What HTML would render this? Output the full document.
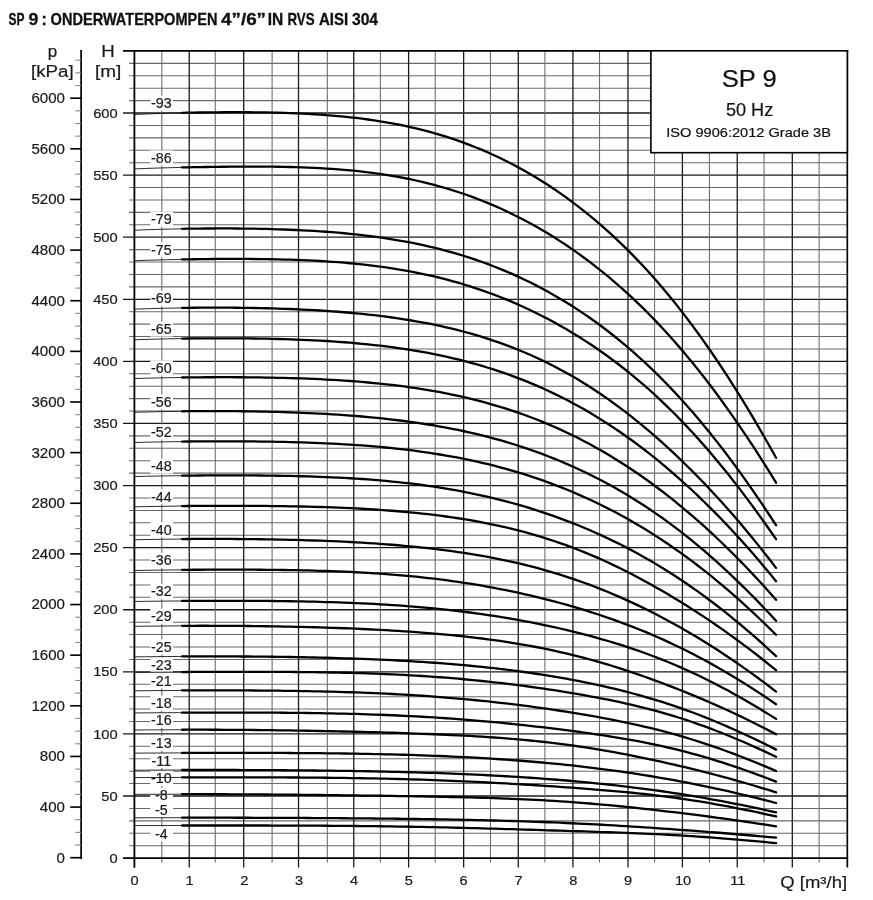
<!DOCTYPE html>
<html><head><meta charset="utf-8"><title>SP 9 pump curves</title>
<style>html,body{margin:0;padding:0;background:#fff;width:873px;height:900px;overflow:hidden} svg{will-change:transform}</style>
</head><body>
<svg width="873" height="900" viewBox="0 0 873 900" style="display:block">
<rect x="0" y="0" width="873" height="900" fill="#fff"/>
<g font-family='"Liberation Sans", sans-serif' font-weight="bold" font-size="15.7" fill="#111" stroke="#111" stroke-width="0.3"><text x="8.54" y="24.9" textLength="15.97" lengthAdjust="spacingAndGlyphs">SP</text><text x="28.58" y="24.9" textLength="9.86" lengthAdjust="spacingAndGlyphs">9</text><text x="50.62" y="24.9" textLength="166.85" lengthAdjust="spacingAndGlyphs">ONDERWATERPOMPEN</text><text x="221.02" y="24.9" textLength="45.0" lengthAdjust="spacingAndGlyphs">4”/6”</text><text x="267.75" y="24.9" textLength="15.49" lengthAdjust="spacingAndGlyphs">IN</text><text x="287.5" y="24.9" textLength="27.14" lengthAdjust="spacingAndGlyphs">RVS</text><text x="318.92" y="24.9" textLength="29.19" lengthAdjust="spacingAndGlyphs">AISI</text><text x="351.95" y="24.9" textLength="26.15" lengthAdjust="spacingAndGlyphs">304</text><text x="44.0" y="24.9" text-anchor="middle">:</text></g>
<line x1="129.2" y1="845.68" x2="847.32" y2="845.68" stroke="#6a6a6a" stroke-width="1.05"/>
<line x1="129.2" y1="833.26" x2="847.32" y2="833.26" stroke="#6a6a6a" stroke-width="1.05"/>
<line x1="129.2" y1="820.85" x2="847.32" y2="820.85" stroke="#6a6a6a" stroke-width="1.05"/>
<line x1="129.2" y1="808.43" x2="847.32" y2="808.43" stroke="#6a6a6a" stroke-width="1.05"/>
<line x1="123.0" y1="796.01" x2="847.32" y2="796.01" stroke="#1a1a1a" stroke-width="1.3"/>
<line x1="129.2" y1="783.59" x2="847.32" y2="783.59" stroke="#6a6a6a" stroke-width="1.05"/>
<line x1="129.2" y1="771.17" x2="847.32" y2="771.17" stroke="#6a6a6a" stroke-width="1.05"/>
<line x1="129.2" y1="758.76" x2="847.32" y2="758.76" stroke="#6a6a6a" stroke-width="1.05"/>
<line x1="129.2" y1="746.34" x2="847.32" y2="746.34" stroke="#6a6a6a" stroke-width="1.05"/>
<line x1="123.0" y1="733.92" x2="847.32" y2="733.92" stroke="#1a1a1a" stroke-width="1.3"/>
<line x1="129.2" y1="721.50" x2="847.32" y2="721.50" stroke="#6a6a6a" stroke-width="1.05"/>
<line x1="129.2" y1="709.08" x2="847.32" y2="709.08" stroke="#6a6a6a" stroke-width="1.05"/>
<line x1="129.2" y1="696.67" x2="847.32" y2="696.67" stroke="#6a6a6a" stroke-width="1.05"/>
<line x1="129.2" y1="684.25" x2="847.32" y2="684.25" stroke="#6a6a6a" stroke-width="1.05"/>
<line x1="123.0" y1="671.83" x2="847.32" y2="671.83" stroke="#1a1a1a" stroke-width="1.3"/>
<line x1="129.2" y1="659.41" x2="847.32" y2="659.41" stroke="#6a6a6a" stroke-width="1.05"/>
<line x1="129.2" y1="646.99" x2="847.32" y2="646.99" stroke="#6a6a6a" stroke-width="1.05"/>
<line x1="129.2" y1="634.58" x2="847.32" y2="634.58" stroke="#6a6a6a" stroke-width="1.05"/>
<line x1="129.2" y1="622.16" x2="847.32" y2="622.16" stroke="#6a6a6a" stroke-width="1.05"/>
<line x1="123.0" y1="609.74" x2="847.32" y2="609.74" stroke="#1a1a1a" stroke-width="1.3"/>
<line x1="129.2" y1="597.32" x2="847.32" y2="597.32" stroke="#6a6a6a" stroke-width="1.05"/>
<line x1="129.2" y1="584.90" x2="847.32" y2="584.90" stroke="#6a6a6a" stroke-width="1.05"/>
<line x1="129.2" y1="572.49" x2="847.32" y2="572.49" stroke="#6a6a6a" stroke-width="1.05"/>
<line x1="129.2" y1="560.07" x2="847.32" y2="560.07" stroke="#6a6a6a" stroke-width="1.05"/>
<line x1="123.0" y1="547.65" x2="847.32" y2="547.65" stroke="#1a1a1a" stroke-width="1.3"/>
<line x1="129.2" y1="535.23" x2="847.32" y2="535.23" stroke="#6a6a6a" stroke-width="1.05"/>
<line x1="129.2" y1="522.81" x2="847.32" y2="522.81" stroke="#6a6a6a" stroke-width="1.05"/>
<line x1="129.2" y1="510.40" x2="847.32" y2="510.40" stroke="#6a6a6a" stroke-width="1.05"/>
<line x1="129.2" y1="497.98" x2="847.32" y2="497.98" stroke="#6a6a6a" stroke-width="1.05"/>
<line x1="123.0" y1="485.56" x2="847.32" y2="485.56" stroke="#1a1a1a" stroke-width="1.3"/>
<line x1="129.2" y1="473.14" x2="847.32" y2="473.14" stroke="#6a6a6a" stroke-width="1.05"/>
<line x1="129.2" y1="460.72" x2="847.32" y2="460.72" stroke="#6a6a6a" stroke-width="1.05"/>
<line x1="129.2" y1="448.31" x2="847.32" y2="448.31" stroke="#6a6a6a" stroke-width="1.05"/>
<line x1="129.2" y1="435.89" x2="847.32" y2="435.89" stroke="#6a6a6a" stroke-width="1.05"/>
<line x1="123.0" y1="423.47" x2="847.32" y2="423.47" stroke="#1a1a1a" stroke-width="1.3"/>
<line x1="129.2" y1="411.05" x2="847.32" y2="411.05" stroke="#6a6a6a" stroke-width="1.05"/>
<line x1="129.2" y1="398.63" x2="847.32" y2="398.63" stroke="#6a6a6a" stroke-width="1.05"/>
<line x1="129.2" y1="386.22" x2="847.32" y2="386.22" stroke="#6a6a6a" stroke-width="1.05"/>
<line x1="129.2" y1="373.80" x2="847.32" y2="373.80" stroke="#6a6a6a" stroke-width="1.05"/>
<line x1="123.0" y1="361.38" x2="847.32" y2="361.38" stroke="#1a1a1a" stroke-width="1.3"/>
<line x1="129.2" y1="348.96" x2="847.32" y2="348.96" stroke="#6a6a6a" stroke-width="1.05"/>
<line x1="129.2" y1="336.54" x2="847.32" y2="336.54" stroke="#6a6a6a" stroke-width="1.05"/>
<line x1="129.2" y1="324.13" x2="847.32" y2="324.13" stroke="#6a6a6a" stroke-width="1.05"/>
<line x1="129.2" y1="311.71" x2="847.32" y2="311.71" stroke="#6a6a6a" stroke-width="1.05"/>
<line x1="123.0" y1="299.29" x2="847.32" y2="299.29" stroke="#1a1a1a" stroke-width="1.3"/>
<line x1="129.2" y1="286.87" x2="847.32" y2="286.87" stroke="#6a6a6a" stroke-width="1.05"/>
<line x1="129.2" y1="274.45" x2="847.32" y2="274.45" stroke="#6a6a6a" stroke-width="1.05"/>
<line x1="129.2" y1="262.04" x2="847.32" y2="262.04" stroke="#6a6a6a" stroke-width="1.05"/>
<line x1="129.2" y1="249.62" x2="847.32" y2="249.62" stroke="#6a6a6a" stroke-width="1.05"/>
<line x1="123.0" y1="237.20" x2="847.32" y2="237.20" stroke="#1a1a1a" stroke-width="1.3"/>
<line x1="129.2" y1="224.78" x2="847.32" y2="224.78" stroke="#6a6a6a" stroke-width="1.05"/>
<line x1="129.2" y1="212.36" x2="847.32" y2="212.36" stroke="#6a6a6a" stroke-width="1.05"/>
<line x1="129.2" y1="199.95" x2="847.32" y2="199.95" stroke="#6a6a6a" stroke-width="1.05"/>
<line x1="129.2" y1="187.53" x2="847.32" y2="187.53" stroke="#6a6a6a" stroke-width="1.05"/>
<line x1="123.0" y1="175.11" x2="847.32" y2="175.11" stroke="#1a1a1a" stroke-width="1.3"/>
<line x1="129.2" y1="162.69" x2="847.32" y2="162.69" stroke="#6a6a6a" stroke-width="1.05"/>
<line x1="129.2" y1="150.27" x2="847.32" y2="150.27" stroke="#6a6a6a" stroke-width="1.05"/>
<line x1="129.2" y1="137.86" x2="847.32" y2="137.86" stroke="#6a6a6a" stroke-width="1.05"/>
<line x1="129.2" y1="125.44" x2="847.32" y2="125.44" stroke="#6a6a6a" stroke-width="1.05"/>
<line x1="123.0" y1="113.02" x2="847.32" y2="113.02" stroke="#1a1a1a" stroke-width="1.3"/>
<line x1="129.2" y1="100.60" x2="847.32" y2="100.60" stroke="#6a6a6a" stroke-width="1.05"/>
<line x1="129.2" y1="88.18" x2="847.32" y2="88.18" stroke="#6a6a6a" stroke-width="1.05"/>
<line x1="129.2" y1="75.77" x2="847.32" y2="75.77" stroke="#6a6a6a" stroke-width="1.05"/>
<line x1="129.2" y1="63.35" x2="847.32" y2="63.35" stroke="#6a6a6a" stroke-width="1.05"/>
<line x1="161.82" y1="50.80" x2="161.82" y2="862.5" stroke="#6a6a6a" stroke-width="1.05"/>
<line x1="189.24" y1="50.80" x2="189.24" y2="867.6" stroke="#1a1a1a" stroke-width="1.3"/>
<line x1="215.26" y1="50.80" x2="215.26" y2="862.5" stroke="#6a6a6a" stroke-width="1.05"/>
<line x1="243.68" y1="50.80" x2="243.68" y2="867.6" stroke="#1a1a1a" stroke-width="1.3"/>
<line x1="272.10" y1="50.80" x2="272.10" y2="862.5" stroke="#6a6a6a" stroke-width="1.05"/>
<line x1="298.52" y1="50.80" x2="298.52" y2="867.6" stroke="#1a1a1a" stroke-width="1.3"/>
<line x1="327.34" y1="50.80" x2="327.34" y2="862.5" stroke="#6a6a6a" stroke-width="1.05"/>
<line x1="353.76" y1="50.80" x2="353.76" y2="867.6" stroke="#1a1a1a" stroke-width="1.3"/>
<line x1="380.38" y1="50.80" x2="380.38" y2="862.5" stroke="#6a6a6a" stroke-width="1.05"/>
<line x1="408.60" y1="50.80" x2="408.60" y2="867.6" stroke="#1a1a1a" stroke-width="1.3"/>
<line x1="435.22" y1="50.80" x2="435.22" y2="862.5" stroke="#6a6a6a" stroke-width="1.05"/>
<line x1="463.64" y1="50.80" x2="463.64" y2="867.6" stroke="#1a1a1a" stroke-width="1.3"/>
<line x1="490.46" y1="50.80" x2="490.46" y2="862.5" stroke="#6a6a6a" stroke-width="1.05"/>
<line x1="518.28" y1="50.80" x2="518.28" y2="867.6" stroke="#1a1a1a" stroke-width="1.3"/>
<line x1="544.90" y1="50.80" x2="544.90" y2="862.5" stroke="#6a6a6a" stroke-width="1.05"/>
<line x1="572.92" y1="50.80" x2="572.92" y2="867.6" stroke="#1a1a1a" stroke-width="1.3"/>
<line x1="599.54" y1="50.80" x2="599.54" y2="862.5" stroke="#6a6a6a" stroke-width="1.05"/>
<line x1="627.96" y1="50.80" x2="627.96" y2="867.6" stroke="#1a1a1a" stroke-width="1.3"/>
<line x1="654.58" y1="50.80" x2="654.58" y2="862.5" stroke="#6a6a6a" stroke-width="1.05"/>
<line x1="682.40" y1="50.80" x2="682.40" y2="867.6" stroke="#1a1a1a" stroke-width="1.3"/>
<line x1="709.42" y1="50.80" x2="709.42" y2="862.5" stroke="#6a6a6a" stroke-width="1.05"/>
<line x1="737.24" y1="50.80" x2="737.24" y2="867.6" stroke="#1a1a1a" stroke-width="1.3"/>
<line x1="764.06" y1="50.80" x2="764.06" y2="862.5" stroke="#6a6a6a" stroke-width="1.05"/>
<line x1="792.30" y1="50.80" x2="792.30" y2="867.6" stroke="#1a1a1a" stroke-width="1.3"/>
<line x1="819.10" y1="50.80" x2="819.10" y2="862.5" stroke="#6a6a6a" stroke-width="1.05"/>
<line x1="123.0" y1="50.80" x2="848.17" y2="50.80" stroke="#000" stroke-width="1.7"/>
<line x1="123.0" y1="858.10" x2="848.12" y2="858.10" stroke="#000" stroke-width="1.6"/>
<line x1="134.40" y1="50.00" x2="134.40" y2="867.8" stroke="#000" stroke-width="1.8"/>
<line x1="847.32" y1="49.95" x2="847.32" y2="867.6" stroke="#000" stroke-width="1.7"/>
<line x1="81.1" y1="50.0" x2="81.1" y2="858.90" stroke="#000" stroke-width="1.7"/>
<line x1="70.2" y1="857.70" x2="81" y2="857.70" stroke="#000" stroke-width="1.6"/>
<line x1="75.3" y1="845.04" x2="81" y2="845.04" stroke="#888" stroke-width="1.1"/>
<line x1="75.3" y1="832.38" x2="81" y2="832.38" stroke="#888" stroke-width="1.1"/>
<line x1="75.3" y1="819.72" x2="81" y2="819.72" stroke="#888" stroke-width="1.1"/>
<line x1="70.2" y1="807.07" x2="81" y2="807.07" stroke="#000" stroke-width="1.6"/>
<line x1="75.3" y1="794.41" x2="81" y2="794.41" stroke="#888" stroke-width="1.1"/>
<line x1="75.3" y1="781.75" x2="81" y2="781.75" stroke="#888" stroke-width="1.1"/>
<line x1="75.3" y1="769.09" x2="81" y2="769.09" stroke="#888" stroke-width="1.1"/>
<line x1="70.2" y1="756.43" x2="81" y2="756.43" stroke="#000" stroke-width="1.6"/>
<line x1="75.3" y1="743.77" x2="81" y2="743.77" stroke="#888" stroke-width="1.1"/>
<line x1="75.3" y1="731.11" x2="81" y2="731.11" stroke="#888" stroke-width="1.1"/>
<line x1="75.3" y1="718.46" x2="81" y2="718.46" stroke="#888" stroke-width="1.1"/>
<line x1="70.2" y1="705.80" x2="81" y2="705.80" stroke="#000" stroke-width="1.6"/>
<line x1="75.3" y1="693.14" x2="81" y2="693.14" stroke="#888" stroke-width="1.1"/>
<line x1="75.3" y1="680.48" x2="81" y2="680.48" stroke="#888" stroke-width="1.1"/>
<line x1="75.3" y1="667.82" x2="81" y2="667.82" stroke="#888" stroke-width="1.1"/>
<line x1="70.2" y1="655.16" x2="81" y2="655.16" stroke="#000" stroke-width="1.6"/>
<line x1="75.3" y1="642.51" x2="81" y2="642.51" stroke="#888" stroke-width="1.1"/>
<line x1="75.3" y1="629.85" x2="81" y2="629.85" stroke="#888" stroke-width="1.1"/>
<line x1="75.3" y1="617.19" x2="81" y2="617.19" stroke="#888" stroke-width="1.1"/>
<line x1="70.2" y1="604.53" x2="81" y2="604.53" stroke="#000" stroke-width="1.6"/>
<line x1="75.3" y1="591.87" x2="81" y2="591.87" stroke="#888" stroke-width="1.1"/>
<line x1="75.3" y1="579.21" x2="81" y2="579.21" stroke="#888" stroke-width="1.1"/>
<line x1="75.3" y1="566.55" x2="81" y2="566.55" stroke="#888" stroke-width="1.1"/>
<line x1="70.2" y1="553.90" x2="81" y2="553.90" stroke="#000" stroke-width="1.6"/>
<line x1="75.3" y1="541.24" x2="81" y2="541.24" stroke="#888" stroke-width="1.1"/>
<line x1="75.3" y1="528.58" x2="81" y2="528.58" stroke="#888" stroke-width="1.1"/>
<line x1="75.3" y1="515.92" x2="81" y2="515.92" stroke="#888" stroke-width="1.1"/>
<line x1="70.2" y1="503.26" x2="81" y2="503.26" stroke="#000" stroke-width="1.6"/>
<line x1="75.3" y1="490.60" x2="81" y2="490.60" stroke="#888" stroke-width="1.1"/>
<line x1="75.3" y1="477.94" x2="81" y2="477.94" stroke="#888" stroke-width="1.1"/>
<line x1="75.3" y1="465.29" x2="81" y2="465.29" stroke="#888" stroke-width="1.1"/>
<line x1="70.2" y1="452.63" x2="81" y2="452.63" stroke="#000" stroke-width="1.6"/>
<line x1="75.3" y1="439.97" x2="81" y2="439.97" stroke="#888" stroke-width="1.1"/>
<line x1="75.3" y1="427.31" x2="81" y2="427.31" stroke="#888" stroke-width="1.1"/>
<line x1="75.3" y1="414.65" x2="81" y2="414.65" stroke="#888" stroke-width="1.1"/>
<line x1="70.2" y1="401.99" x2="81" y2="401.99" stroke="#000" stroke-width="1.6"/>
<line x1="75.3" y1="389.34" x2="81" y2="389.34" stroke="#888" stroke-width="1.1"/>
<line x1="75.3" y1="376.68" x2="81" y2="376.68" stroke="#888" stroke-width="1.1"/>
<line x1="75.3" y1="364.02" x2="81" y2="364.02" stroke="#888" stroke-width="1.1"/>
<line x1="70.2" y1="351.36" x2="81" y2="351.36" stroke="#000" stroke-width="1.6"/>
<line x1="75.3" y1="338.70" x2="81" y2="338.70" stroke="#888" stroke-width="1.1"/>
<line x1="75.3" y1="326.04" x2="81" y2="326.04" stroke="#888" stroke-width="1.1"/>
<line x1="75.3" y1="313.38" x2="81" y2="313.38" stroke="#888" stroke-width="1.1"/>
<line x1="70.2" y1="300.73" x2="81" y2="300.73" stroke="#000" stroke-width="1.6"/>
<line x1="75.3" y1="288.07" x2="81" y2="288.07" stroke="#888" stroke-width="1.1"/>
<line x1="75.3" y1="275.41" x2="81" y2="275.41" stroke="#888" stroke-width="1.1"/>
<line x1="75.3" y1="262.75" x2="81" y2="262.75" stroke="#888" stroke-width="1.1"/>
<line x1="70.2" y1="250.09" x2="81" y2="250.09" stroke="#000" stroke-width="1.6"/>
<line x1="75.3" y1="237.43" x2="81" y2="237.43" stroke="#888" stroke-width="1.1"/>
<line x1="75.3" y1="224.77" x2="81" y2="224.77" stroke="#888" stroke-width="1.1"/>
<line x1="75.3" y1="212.12" x2="81" y2="212.12" stroke="#888" stroke-width="1.1"/>
<line x1="70.2" y1="199.46" x2="81" y2="199.46" stroke="#000" stroke-width="1.6"/>
<line x1="75.3" y1="186.80" x2="81" y2="186.80" stroke="#888" stroke-width="1.1"/>
<line x1="75.3" y1="174.14" x2="81" y2="174.14" stroke="#888" stroke-width="1.1"/>
<line x1="75.3" y1="161.48" x2="81" y2="161.48" stroke="#888" stroke-width="1.1"/>
<line x1="70.2" y1="148.82" x2="81" y2="148.82" stroke="#000" stroke-width="1.6"/>
<line x1="75.3" y1="136.16" x2="81" y2="136.16" stroke="#888" stroke-width="1.1"/>
<line x1="75.3" y1="123.51" x2="81" y2="123.51" stroke="#888" stroke-width="1.1"/>
<line x1="75.3" y1="110.85" x2="81" y2="110.85" stroke="#888" stroke-width="1.1"/>
<line x1="70.2" y1="98.19" x2="81" y2="98.19" stroke="#000" stroke-width="1.6"/>
<line x1="75.3" y1="85.53" x2="81" y2="85.53" stroke="#888" stroke-width="1.1"/>
<line x1="75.3" y1="72.87" x2="81" y2="72.87" stroke="#888" stroke-width="1.1"/>
<line x1="75.3" y1="60.21" x2="81" y2="60.21" stroke="#888" stroke-width="1.1"/>
<g font-family='"Liberation Sans", sans-serif' font-size="14.1" fill="#1a1a1a" stroke="#1a1a1a" stroke-width="0.2"><text transform="translate(65.00,862.65) scale(1.07,1)" text-anchor="end">0</text>
<text transform="translate(65.00,812.02) scale(1.07,1)" text-anchor="end">400</text>
<text transform="translate(65.00,761.38) scale(1.07,1)" text-anchor="end">800</text>
<text transform="translate(65.00,710.75) scale(1.07,1)" text-anchor="end">1200</text>
<text transform="translate(65.00,660.11) scale(1.07,1)" text-anchor="end">1600</text>
<text transform="translate(65.00,609.48) scale(1.07,1)" text-anchor="end">2000</text>
<text transform="translate(65.00,558.85) scale(1.07,1)" text-anchor="end">2400</text>
<text transform="translate(65.00,508.21) scale(1.07,1)" text-anchor="end">2800</text>
<text transform="translate(65.00,457.58) scale(1.07,1)" text-anchor="end">3200</text>
<text transform="translate(65.00,406.94) scale(1.07,1)" text-anchor="end">3600</text>
<text transform="translate(65.00,356.31) scale(1.07,1)" text-anchor="end">4000</text>
<text transform="translate(65.00,305.68) scale(1.07,1)" text-anchor="end">4400</text>
<text transform="translate(65.00,255.04) scale(1.07,1)" text-anchor="end">4800</text>
<text transform="translate(65.00,204.41) scale(1.07,1)" text-anchor="end">5200</text>
<text transform="translate(65.00,153.77) scale(1.07,1)" text-anchor="end">5600</text>
<text transform="translate(65.00,103.14) scale(1.07,1)" text-anchor="end">6000</text></g>
<g font-family='"Liberation Sans", sans-serif' font-size="13.1" fill="#1a1a1a" stroke="#1a1a1a" stroke-width="0.2"><text transform="translate(117.60,862.70) scale(1.12,1)" text-anchor="end">0</text>
<text transform="translate(117.60,800.61) scale(1.12,1)" text-anchor="end">50</text>
<text transform="translate(117.60,738.52) scale(1.12,1)" text-anchor="end">100</text>
<text transform="translate(117.60,676.43) scale(1.12,1)" text-anchor="end">150</text>
<text transform="translate(117.60,614.34) scale(1.12,1)" text-anchor="end">200</text>
<text transform="translate(117.60,552.25) scale(1.12,1)" text-anchor="end">250</text>
<text transform="translate(117.60,490.16) scale(1.12,1)" text-anchor="end">300</text>
<text transform="translate(117.60,428.07) scale(1.12,1)" text-anchor="end">350</text>
<text transform="translate(117.60,365.98) scale(1.12,1)" text-anchor="end">400</text>
<text transform="translate(117.60,303.89) scale(1.12,1)" text-anchor="end">450</text>
<text transform="translate(117.60,241.80) scale(1.12,1)" text-anchor="end">500</text>
<text transform="translate(117.60,179.71) scale(1.12,1)" text-anchor="end">550</text>
<text transform="translate(117.60,117.62) scale(1.12,1)" text-anchor="end">600</text></g>
<g font-family='"Liberation Sans", sans-serif' font-size="13.4" fill="#1a1a1a" stroke="#1a1a1a" stroke-width="0.2"><text transform="translate(134.60,884.70) scale(1.09,1)" text-anchor="middle">0</text>
<text transform="translate(189.44,884.70) scale(1.09,1)" text-anchor="middle">1</text>
<text transform="translate(244.28,884.70) scale(1.09,1)" text-anchor="middle">2</text>
<text transform="translate(299.12,884.70) scale(1.09,1)" text-anchor="middle">3</text>
<text transform="translate(353.96,884.70) scale(1.09,1)" text-anchor="middle">4</text>
<text transform="translate(408.80,884.70) scale(1.09,1)" text-anchor="middle">5</text>
<text transform="translate(463.64,884.70) scale(1.09,1)" text-anchor="middle">6</text>
<text transform="translate(518.48,884.70) scale(1.09,1)" text-anchor="middle">7</text>
<text transform="translate(573.32,884.70) scale(1.09,1)" text-anchor="middle">8</text>
<text transform="translate(628.16,884.70) scale(1.09,1)" text-anchor="middle">9</text>
<text transform="translate(683.00,884.70) scale(1.09,1)" text-anchor="middle">10</text>
<text transform="translate(737.84,884.70) scale(1.09,1)" text-anchor="middle">11</text></g>
<g font-family='"Liberation Sans", sans-serif' fill="#1a1a1a" stroke="#1a1a1a" stroke-width="0.2"><text x="52.6" y="57.3" font-size="17" text-anchor="middle">p</text><text x="31.0" y="76.6" font-size="16.9" textLength="42.6" lengthAdjust="spacingAndGlyphs">[kPa]</text><text x="101.3" y="57.1" font-size="17.4" textLength="13.5" lengthAdjust="spacingAndGlyphs">H</text><text x="94.9" y="76.6" font-size="17" textLength="26.4" lengthAdjust="spacingAndGlyphs">[m]</text><text x="780.3" y="887.8" font-size="16.4" textLength="66.8" lengthAdjust="spacingAndGlyphs">Q [m³/h]</text></g>
<rect x="150.3" y="95.81" width="22.7" height="15" fill="#fff"/>
<rect x="150.3" y="150.40" width="22.7" height="15" fill="#fff"/>
<rect x="150.3" y="211.79" width="22.7" height="15" fill="#fff"/>
<rect x="150.3" y="242.39" width="22.7" height="15" fill="#fff"/>
<rect x="150.3" y="290.88" width="22.7" height="15" fill="#fff"/>
<rect x="150.3" y="321.58" width="22.7" height="15" fill="#fff"/>
<rect x="150.3" y="360.47" width="22.7" height="15" fill="#fff"/>
<rect x="150.3" y="394.27" width="22.7" height="15" fill="#fff"/>
<rect x="150.3" y="424.56" width="22.7" height="15" fill="#fff"/>
<rect x="150.3" y="458.66" width="22.7" height="15" fill="#fff"/>
<rect x="150.3" y="489.05" width="22.7" height="15" fill="#fff"/>
<rect x="150.3" y="522.05" width="22.7" height="15" fill="#fff"/>
<rect x="150.3" y="552.84" width="22.7" height="15" fill="#fff"/>
<rect x="150.3" y="583.94" width="22.7" height="15" fill="#fff"/>
<rect x="150.3" y="608.83" width="22.7" height="15" fill="#fff"/>
<rect x="150.3" y="639.43" width="22.7" height="15" fill="#fff"/>
<rect x="150.3" y="657.53" width="22.7" height="15" fill="#fff"/>
<rect x="150.3" y="673.43" width="22.7" height="15" fill="#fff"/>
<rect x="150.3" y="695.62" width="22.7" height="15" fill="#fff"/>
<rect x="150.3" y="712.72" width="22.7" height="15" fill="#fff"/>
<rect x="150.3" y="735.92" width="22.7" height="15" fill="#fff"/>
<rect x="150.3" y="753.01" width="22.7" height="15" fill="#fff"/>
<rect x="150.3" y="770.91" width="22.7" height="15" fill="#fff"/>
<rect x="150.3" y="787.71" width="22.7" height="15" fill="#fff"/>
<rect x="150.3" y="802.21" width="22.7" height="15" fill="#fff"/>
<rect x="150.3" y="826.51" width="22.7" height="15" fill="#fff"/>
<polyline points="134.40,114.48 139.88,114.23 145.37,113.99 150.85,113.78 156.34,113.58 161.82,113.39 167.30,113.23 172.79,113.07 178.27,112.93 183.76,112.81" fill="none" stroke="#111" stroke-width="0.9"/>
<polyline points="182.11,112.85 188.11,112.72 194.11,112.61 200.11,112.50 206.11,112.42 212.11,112.34 218.11,112.29 224.10,112.24 230.10,112.22 236.10,112.21 242.10,112.22 248.10,112.25 254.10,112.30 260.10,112.37 266.10,112.47 272.10,112.59 278.10,112.73 284.10,112.91 290.10,113.11 296.09,113.35 302.09,113.62 308.09,113.93 314.09,114.27 320.09,114.66 326.09,115.09 332.09,115.56 338.09,116.08 344.09,116.65 350.09,117.28 356.09,117.96 362.09,118.70 368.08,119.50 374.08,120.36 380.08,121.29 386.08,122.28 392.08,123.35 398.08,124.50 404.08,125.72 410.08,127.03 416.08,128.42 422.08,129.89 428.08,131.46 434.08,133.12 440.07,134.87 446.07,136.71 452.07,138.65 458.07,140.70 464.07,142.85 470.07,145.10 476.07,147.46 482.07,149.93 488.07,152.52 494.07,155.22 500.07,158.03 506.07,160.97 512.06,164.03 518.06,167.21 524.06,170.52 530.06,173.95 536.06,177.52 542.06,181.23 548.06,185.06 554.06,189.04 560.06,193.15 566.06,197.41 572.06,201.81 578.06,206.35 584.05,211.04 590.05,215.89 596.05,220.89 602.05,226.05 608.05,231.38 614.05,236.87 620.05,242.54 626.05,248.38 632.05,254.40 638.05,260.60 644.05,266.99 650.05,273.56 656.04,280.32 662.04,287.28 668.04,294.44 674.04,301.80 680.04,309.36 686.04,317.12 692.04,325.09 698.04,333.26 704.04,341.64 710.04,350.23 716.04,359.01 722.04,368.00 728.03,377.20 734.03,386.59 740.03,396.18 746.03,405.97 752.03,415.95 758.03,426.13 764.03,436.49 770.03,447.05 776.03,457.80" fill="none" stroke="#000" stroke-width="2.3" stroke-linejoin="round" stroke-linecap="round"/>
<polyline points="134.40,168.93 139.88,168.70 145.37,168.48 150.85,168.28 156.34,168.10 161.82,167.93 167.30,167.78 172.79,167.64 178.27,167.51 183.76,167.40" fill="none" stroke="#111" stroke-width="0.9"/>
<polyline points="182.11,167.43 188.11,167.32 194.11,167.20 200.11,167.09 206.11,166.98 212.11,166.89 218.11,166.80 224.10,166.73 230.10,166.67 236.10,166.62 242.10,166.59 248.10,166.57 254.10,166.57 260.10,166.59 266.10,166.62 272.10,166.68 278.10,166.77 284.10,166.88 290.10,167.01 296.09,167.18 302.09,167.38 308.09,167.61 314.09,167.88 320.09,168.19 326.09,168.53 332.09,168.93 338.09,169.36 344.09,169.85 350.09,170.39 356.09,170.98 362.09,171.63 368.08,172.33 374.08,173.11 380.08,173.94 386.08,174.85 392.08,175.82 398.08,176.87 404.08,178.00 410.08,179.21 416.08,180.50 422.08,181.87 428.08,183.33 434.08,184.89 440.07,186.53 446.07,188.26 452.07,190.09 458.07,192.01 464.07,194.03 470.07,196.15 476.07,198.38 482.07,200.70 488.07,203.13 494.07,205.67 500.07,208.31 506.07,211.07 512.06,213.94 518.06,216.92 524.06,220.02 530.06,223.24 536.06,226.57 542.06,230.02 548.06,233.60 554.06,237.30 560.06,241.13 566.06,245.08 572.06,249.16 578.06,253.37 584.05,257.72 590.05,262.20 596.05,266.82 602.05,271.58 608.05,276.48 614.05,281.54 620.05,286.75 626.05,292.12 632.05,297.64 638.05,303.33 644.05,309.17 650.05,315.19 656.04,321.38 662.04,327.74 668.04,334.27 674.04,340.98 680.04,347.87 686.04,354.94 692.04,362.20 698.04,369.63 704.04,377.25 710.04,385.05 716.04,393.04 722.04,401.20 728.03,409.55 734.03,418.07 740.03,426.78 746.03,435.66 752.03,444.72 758.03,453.95 764.03,463.36 770.03,472.95 776.03,482.70" fill="none" stroke="#000" stroke-width="2.3" stroke-linejoin="round" stroke-linecap="round"/>
<polyline points="134.40,230.23 139.88,230.01 145.37,229.81 150.85,229.62 156.34,229.45 161.82,229.30 167.30,229.15 172.79,229.02 178.27,228.90 183.76,228.79" fill="none" stroke="#111" stroke-width="0.9"/>
<polyline points="182.11,228.83 188.11,228.72 194.11,228.63 200.11,228.56 206.11,228.51 212.11,228.48 218.11,228.46 224.10,228.46 230.10,228.47 236.10,228.51 242.10,228.56 248.10,228.63 254.10,228.72 260.10,228.83 266.10,228.96 272.10,229.12 278.10,229.30 284.10,229.50 290.10,229.73 296.09,229.99 302.09,230.28 308.09,230.60 314.09,230.95 320.09,231.33 326.09,231.75 332.09,232.21 338.09,232.71 344.09,233.24 350.09,233.83 356.09,234.45 362.09,235.13 368.08,235.85 374.08,236.63 380.08,237.46 386.08,238.34 392.08,239.28 398.08,240.29 404.08,241.35 410.08,242.49 416.08,243.68 422.08,244.95 428.08,246.29 434.08,247.71 440.07,249.20 446.07,250.77 452.07,252.43 458.07,254.16 464.07,255.98 470.07,257.89 476.07,259.89 482.07,261.98 488.07,264.17 494.07,266.46 500.07,268.84 506.07,271.33 512.06,273.92 518.06,276.62 524.06,279.42 530.06,282.34 536.06,285.37 542.06,288.51 548.06,291.77 554.06,295.15 560.06,298.65 566.06,302.27 572.06,306.02 578.06,309.90 584.05,313.90 590.05,318.04 596.05,322.31 602.05,326.73 608.05,331.28 614.05,335.98 620.05,340.83 626.05,345.83 632.05,350.99 638.05,356.30 644.05,361.77 650.05,367.40 656.04,373.19 662.04,379.16 668.04,385.29 674.04,391.59 680.04,398.06 686.04,404.71 692.04,411.54 698.04,418.54 704.04,425.72 710.04,433.07 716.04,440.60 722.04,448.29 728.03,456.17 734.03,464.21 740.03,472.42 746.03,480.80 752.03,489.35 758.03,498.07 764.03,506.95 770.03,515.99 776.03,525.20" fill="none" stroke="#000" stroke-width="2.3" stroke-linejoin="round" stroke-linecap="round"/>
<polyline points="134.40,260.75 139.88,260.54 145.37,260.35 150.85,260.17 156.34,260.01 161.82,259.86 167.30,259.73 172.79,259.60 178.27,259.49 183.76,259.39" fill="none" stroke="#111" stroke-width="0.9"/>
<polyline points="182.11,259.42 188.11,259.32 194.11,259.23 200.11,259.14 206.11,259.07 212.11,259.02 218.11,258.97 224.10,258.94 230.10,258.92 236.10,258.92 242.10,258.93 248.10,258.96 254.10,259.00 260.10,259.07 266.10,259.15 272.10,259.26 278.10,259.38 284.10,259.53 290.10,259.71 296.09,259.91 302.09,260.14 308.09,260.40 314.09,260.69 320.09,261.02 326.09,261.38 332.09,261.78 338.09,262.22 344.09,262.70 350.09,263.23 356.09,263.80 362.09,264.41 368.08,265.08 374.08,265.80 380.08,266.58 386.08,267.41 392.08,268.31 398.08,269.27 404.08,270.29 410.08,271.37 416.08,272.53 422.08,273.76 428.08,275.06 434.08,276.44 440.07,277.89 446.07,279.42 452.07,281.04 458.07,282.73 464.07,284.50 470.07,286.37 476.07,288.31 482.07,290.35 488.07,292.48 494.07,294.69 500.07,297.01 506.07,299.41 512.06,301.92 518.06,304.52 524.06,307.23 530.06,310.03 536.06,312.94 542.06,315.96 548.06,319.08 554.06,322.31 560.06,325.64 566.06,329.09 572.06,332.66 578.06,336.33 584.05,340.13 590.05,344.04 596.05,348.07 602.05,352.24 608.05,356.53 614.05,360.96 620.05,365.52 626.05,370.23 632.05,375.08 638.05,380.07 644.05,385.21 650.05,390.51 656.04,395.95 662.04,401.56 668.04,407.32 674.04,413.25 680.04,419.34 686.04,425.60 692.04,432.03 698.04,438.62 704.04,445.38 710.04,452.31 716.04,459.40 722.04,466.66 728.03,474.08 734.03,481.67 740.03,489.41 746.03,497.32 752.03,505.38 758.03,513.60 764.03,521.98 770.03,530.52 776.03,539.20" fill="none" stroke="#000" stroke-width="2.3" stroke-linejoin="round" stroke-linecap="round"/>
<polyline points="134.40,309.14 139.88,308.95 145.37,308.77 150.85,308.61 156.34,308.46 161.82,308.32 167.30,308.20 172.79,308.08 178.27,307.98 183.76,307.88" fill="none" stroke="#111" stroke-width="0.9"/>
<polyline points="182.11,307.91 188.11,307.82 194.11,307.75 200.11,307.70 206.11,307.66 212.11,307.65 218.11,307.65 224.10,307.66 230.10,307.69 236.10,307.74 242.10,307.81 248.10,307.89 254.10,307.99 260.10,308.11 266.10,308.25 272.10,308.41 278.10,308.59 284.10,308.79 290.10,309.01 296.09,309.26 302.09,309.53 308.09,309.83 314.09,310.15 320.09,310.51 326.09,310.89 332.09,311.31 338.09,311.75 344.09,312.23 350.09,312.75 356.09,313.30 362.09,313.90 368.08,314.53 374.08,315.20 380.08,315.92 386.08,316.69 392.08,317.50 398.08,318.36 404.08,319.28 410.08,320.24 416.08,321.26 422.08,322.34 428.08,323.48 434.08,324.69 440.07,325.96 446.07,327.30 452.07,328.71 458.07,330.19 464.07,331.75 470.07,333.39 476.07,335.11 482.07,336.92 488.07,338.82 494.07,340.80 500.07,342.88 506.07,345.06 512.06,347.33 518.06,349.71 524.06,352.19 530.06,354.78 536.06,357.47 542.06,360.28 548.06,363.20 554.06,366.24 560.06,369.40 566.06,372.68 572.06,376.08 578.06,379.61 584.05,383.27 590.05,387.06 596.05,390.97 602.05,395.01 608.05,399.18 614.05,403.47 620.05,407.90 626.05,412.45 632.05,417.13 638.05,421.94 644.05,426.87 650.05,431.94 656.04,437.12 662.04,442.44 668.04,447.88 674.04,453.45 680.04,459.14 686.04,464.96 692.04,470.90 698.04,476.96 704.04,483.16 710.04,489.48 716.04,495.93 722.04,502.52 728.03,509.24 734.03,516.09 740.03,523.08 746.03,530.20 752.03,537.47 758.03,544.87 764.03,552.41 770.03,560.08 776.03,567.90" fill="none" stroke="#000" stroke-width="2.3" stroke-linejoin="round" stroke-linecap="round"/>
<polyline points="134.40,339.75 139.88,339.57 145.37,339.41 150.85,339.26 156.34,339.12 161.82,338.99 167.30,338.87 172.79,338.76 178.27,338.66 183.76,338.58" fill="none" stroke="#111" stroke-width="0.9"/>
<polyline points="182.11,338.60 188.11,338.52 194.11,338.45 200.11,338.39 206.11,338.35 212.11,338.32 218.11,338.30 224.10,338.30 230.10,338.32 236.10,338.34 242.10,338.39 248.10,338.44 254.10,338.52 260.10,338.61 266.10,338.72 272.10,338.85 278.10,339.00 284.10,339.16 290.10,339.35 296.09,339.57 302.09,339.80 308.09,340.06 314.09,340.35 320.09,340.67 326.09,341.01 332.09,341.39 338.09,341.80 344.09,342.24 350.09,342.72 356.09,343.24 362.09,343.79 368.08,344.38 374.08,345.02 380.08,345.70 386.08,346.43 392.08,347.20 398.08,348.03 404.08,348.90 410.08,349.83 416.08,350.82 422.08,351.86 428.08,352.96 434.08,354.13 440.07,355.36 446.07,356.65 452.07,358.01 458.07,359.44 464.07,360.95 470.07,362.52 476.07,364.18 482.07,365.91 488.07,367.73 494.07,369.62 500.07,371.60 506.07,373.67 512.06,375.83 518.06,378.08 524.06,380.42 530.06,382.85 536.06,385.39 542.06,388.02 548.06,390.75 554.06,393.59 560.06,396.53 566.06,399.57 572.06,402.73 578.06,405.99 584.05,409.37 590.05,412.86 596.05,416.46 602.05,420.18 608.05,424.01 614.05,427.96 620.05,432.02 626.05,436.21 632.05,440.51 638.05,444.94 644.05,449.48 650.05,454.15 656.04,458.94 662.04,463.85 668.04,468.89 674.04,474.05 680.04,479.33 686.04,484.74 692.04,490.27 698.04,495.92 704.04,501.71 710.04,507.62 716.04,513.66 722.04,519.82 728.03,526.12 734.03,532.55 740.03,539.11 746.03,545.79 752.03,552.61 758.03,559.56 764.03,566.65 770.03,573.86 776.03,581.20" fill="none" stroke="#000" stroke-width="2.3" stroke-linejoin="round" stroke-linecap="round"/>
<polyline points="134.40,378.55 139.88,378.38 145.37,378.23 150.85,378.09 156.34,377.97 161.82,377.85 167.30,377.74 172.79,377.64 178.27,377.55 183.76,377.47" fill="none" stroke="#111" stroke-width="0.9"/>
<polyline points="182.11,377.49 188.11,377.41 194.11,377.35 200.11,377.30 206.11,377.25 212.11,377.23 218.11,377.21 224.10,377.20 230.10,377.21 236.10,377.23 242.10,377.26 248.10,377.31 254.10,377.37 260.10,377.45 266.10,377.54 272.10,377.65 278.10,377.78 284.10,377.92 290.10,378.08 296.09,378.27 302.09,378.47 308.09,378.70 314.09,378.95 320.09,379.22 326.09,379.53 332.09,379.85 338.09,380.21 344.09,380.60 350.09,381.02 356.09,381.47 362.09,381.96 368.08,382.48 374.08,383.05 380.08,383.65 386.08,384.29 392.08,384.98 398.08,385.71 404.08,386.48 410.08,387.31 416.08,388.18 422.08,389.11 428.08,390.09 434.08,391.13 440.07,392.22 446.07,393.37 452.07,394.59 458.07,395.87 464.07,397.22 470.07,398.63 476.07,400.12 482.07,401.68 488.07,403.31 494.07,405.02 500.07,406.80 506.07,408.67 512.06,410.62 518.06,412.65 524.06,414.78 530.06,416.98 536.06,419.28 542.06,421.67 548.06,424.16 554.06,426.74 560.06,429.42 566.06,432.20 572.06,435.08 578.06,438.06 584.05,441.15 590.05,444.34 596.05,447.64 602.05,451.05 608.05,454.56 614.05,458.19 620.05,461.92 626.05,465.77 632.05,469.73 638.05,473.80 644.05,477.98 650.05,482.28 656.04,486.70 662.04,491.23 668.04,495.88 674.04,500.64 680.04,505.52 686.04,510.51 692.04,515.63 698.04,520.86 704.04,526.21 710.04,531.68 716.04,537.27 722.04,542.98 728.03,548.81 734.03,554.76 740.03,560.83 746.03,567.02 752.03,573.34 758.03,579.77 764.03,586.33 770.03,593.00 776.03,599.80" fill="none" stroke="#000" stroke-width="2.3" stroke-linejoin="round" stroke-linecap="round"/>
<polyline points="134.40,412.28 139.88,412.13 145.37,411.99 150.85,411.85 156.34,411.73 161.82,411.62 167.30,411.52 172.79,411.43 178.27,411.34 183.76,411.27" fill="none" stroke="#111" stroke-width="0.9"/>
<polyline points="182.11,411.29 188.11,411.21 194.11,411.16 200.11,411.12 206.11,411.10 212.11,411.09 218.11,411.10 224.10,411.12 230.10,411.15 236.10,411.20 242.10,411.26 248.10,411.34 254.10,411.44 260.10,411.54 266.10,411.67 272.10,411.81 278.10,411.97 284.10,412.14 290.10,412.34 296.09,412.55 302.09,412.79 308.09,413.05 314.09,413.33 320.09,413.63 326.09,413.96 332.09,414.31 338.09,414.69 344.09,415.10 350.09,415.54 356.09,416.00 362.09,416.50 368.08,417.03 374.08,417.60 380.08,418.20 386.08,418.84 392.08,419.52 398.08,420.24 404.08,421.00 410.08,421.80 416.08,422.65 422.08,423.54 428.08,424.49 434.08,425.48 440.07,426.52 446.07,427.62 452.07,428.77 458.07,429.98 464.07,431.25 470.07,432.58 476.07,433.97 482.07,435.43 488.07,436.95 494.07,438.55 500.07,440.21 506.07,441.94 512.06,443.75 518.06,445.63 524.06,447.59 530.06,449.62 536.06,451.74 542.06,453.94 548.06,456.22 554.06,458.59 560.06,461.05 566.06,463.59 572.06,466.22 578.06,468.95 584.05,471.77 590.05,474.68 596.05,477.69 602.05,480.80 608.05,484.02 614.05,487.33 620.05,490.75 626.05,494.28 632.05,497.92 638.05,501.67 644.05,505.53 650.05,509.51 656.04,513.60 662.04,517.81 668.04,522.14 674.04,526.59 680.04,531.16 686.04,535.85 692.04,540.67 698.04,545.60 704.04,550.67 710.04,555.85 716.04,561.16 722.04,566.58 728.03,572.13 734.03,577.80 740.03,583.59 746.03,589.50 752.03,595.53 758.03,601.67 764.03,607.93 770.03,614.31 776.03,620.80" fill="none" stroke="#000" stroke-width="2.3" stroke-linejoin="round" stroke-linecap="round"/>
<polyline points="134.40,442.50 139.88,442.36 145.37,442.22 150.85,442.10 156.34,441.99 161.82,441.89 167.30,441.79 172.79,441.71 178.27,441.63 183.76,441.56" fill="none" stroke="#111" stroke-width="0.9"/>
<polyline points="182.11,441.58 188.11,441.51 194.11,441.45 200.11,441.41 206.11,441.37 212.11,441.34 218.11,441.33 224.10,441.32 230.10,441.33 236.10,441.34 242.10,441.37 248.10,441.41 254.10,441.46 260.10,441.53 266.10,441.61 272.10,441.70 278.10,441.81 284.10,441.94 290.10,442.08 296.09,442.24 302.09,442.41 308.09,442.61 314.09,442.83 320.09,443.07 326.09,443.34 332.09,443.62 338.09,443.94 344.09,444.28 350.09,444.65 356.09,445.04 362.09,445.47 368.08,445.93 374.08,446.43 380.08,446.96 386.08,447.52 392.08,448.13 398.08,448.77 404.08,449.46 410.08,450.18 416.08,450.95 422.08,451.77 428.08,452.64 434.08,453.55 440.07,454.51 446.07,455.53 452.07,456.60 458.07,457.72 464.07,458.91 470.07,460.15 476.07,461.45 482.07,462.81 488.07,464.24 494.07,465.73 500.07,467.29 506.07,468.91 512.06,470.61 518.06,472.38 524.06,474.22 530.06,476.13 536.06,478.12 542.06,480.19 548.06,482.34 554.06,484.57 560.06,486.88 566.06,489.27 572.06,491.75 578.06,494.32 584.05,496.97 590.05,499.71 596.05,502.54 602.05,505.46 608.05,508.48 614.05,511.59 620.05,514.80 626.05,518.10 632.05,521.51 638.05,525.01 644.05,528.61 650.05,532.32 656.04,536.13 662.04,540.04 668.04,544.06 674.04,548.19 680.04,552.42 686.04,556.76 692.04,561.20 698.04,565.76 704.04,570.42 710.04,575.19 716.04,580.07 722.04,585.06 728.03,590.16 734.03,595.37 740.03,600.68 746.03,606.10 752.03,611.63 758.03,617.26 764.03,623.00 770.03,628.85 776.03,634.80" fill="none" stroke="#000" stroke-width="2.3" stroke-linejoin="round" stroke-linecap="round"/>
<polyline points="134.40,476.53 139.88,476.40 145.37,476.28 150.85,476.16 156.34,476.06 161.82,475.96 167.30,475.87 172.79,475.79 178.27,475.72 183.76,475.66" fill="none" stroke="#111" stroke-width="0.9"/>
<polyline points="182.11,475.68 188.11,475.61 194.11,475.55 200.11,475.50 206.11,475.46 212.11,475.43 218.11,475.40 224.10,475.39 230.10,475.38 236.10,475.39 242.10,475.40 248.10,475.42 254.10,475.46 260.10,475.51 266.10,475.57 272.10,475.64 278.10,475.73 284.10,475.83 290.10,475.95 296.09,476.09 302.09,476.24 308.09,476.41 314.09,476.61 320.09,476.82 326.09,477.06 332.09,477.32 338.09,477.60 344.09,477.92 350.09,478.25 356.09,478.62 362.09,479.02 368.08,479.45 374.08,479.92 380.08,480.41 386.08,480.95 392.08,481.52 398.08,482.13 404.08,482.78 410.08,483.47 416.08,484.21 422.08,484.99 428.08,485.82 434.08,486.70 440.07,487.62 446.07,488.60 452.07,489.62 458.07,490.70 464.07,491.83 470.07,493.02 476.07,494.27 482.07,495.57 488.07,496.93 494.07,498.35 500.07,499.83 506.07,501.38 512.06,502.99 518.06,504.66 524.06,506.41 530.06,508.22 536.06,510.09 542.06,512.04 548.06,514.06 554.06,516.16 560.06,518.32 566.06,520.56 572.06,522.88 578.06,525.28 584.05,527.75 590.05,530.30 596.05,532.93 602.05,535.65 608.05,538.45 614.05,541.34 620.05,544.32 626.05,547.39 632.05,550.55 638.05,553.80 644.05,557.14 650.05,560.58 656.04,564.12 662.04,567.75 668.04,571.49 674.04,575.32 680.04,579.26 686.04,583.29 692.04,587.43 698.04,591.68 704.04,596.02 710.04,600.47 716.04,605.02 722.04,609.67 728.03,614.43 734.03,619.28 740.03,624.24 746.03,629.30 752.03,634.46 758.03,639.72 764.03,645.08 770.03,650.54 776.03,656.10" fill="none" stroke="#000" stroke-width="2.3" stroke-linejoin="round" stroke-linecap="round"/>
<polyline points="134.40,506.85 139.88,506.73 145.37,506.62 150.85,506.51 156.34,506.42 161.82,506.33 167.30,506.25 172.79,506.18 178.27,506.11 183.76,506.05" fill="none" stroke="#111" stroke-width="0.9"/>
<polyline points="182.11,506.07 188.11,506.01 194.11,505.96 200.11,505.91 206.11,505.88 212.11,505.85 218.11,505.83 224.10,505.82 230.10,505.81 236.10,505.81 242.10,505.83 248.10,505.85 254.10,505.88 260.10,505.92 266.10,505.97 272.10,506.03 278.10,506.10 284.10,506.18 290.10,506.28 296.09,506.39 302.09,506.52 308.09,506.66 314.09,506.82 320.09,506.99 326.09,507.18 332.09,507.39 338.09,507.62 344.09,507.87 350.09,508.15 356.09,508.44 362.09,508.76 368.08,509.11 374.08,509.48 380.08,509.88 386.08,510.31 392.08,510.77 398.08,511.26 404.08,511.78 410.08,512.34 416.08,512.93 422.08,513.56 428.08,514.23 434.08,514.94 440.07,515.70 446.07,516.50 452.07,517.35 458.07,518.24 464.07,519.19 470.07,520.19 476.07,521.25 482.07,522.37 488.07,523.54 494.07,524.78 500.07,526.08 506.07,527.45 512.06,528.89 518.06,530.39 524.06,531.97 530.06,533.62 536.06,535.34 542.06,537.15 548.06,539.03 554.06,541.00 560.06,543.04 566.06,545.18 572.06,547.40 578.06,549.71 584.05,552.10 590.05,554.59 596.05,557.16 602.05,559.81 608.05,562.56 614.05,565.38 620.05,568.29 626.05,571.27 632.05,574.34 638.05,577.49 644.05,580.71 650.05,584.01 656.04,587.38 662.04,590.83 668.04,594.35 674.04,597.94 680.04,601.60 686.04,605.32 692.04,609.11 698.04,612.98 704.04,616.91 710.04,620.91 716.04,624.99 722.04,629.15 728.03,633.38 734.03,637.70 740.03,642.09 746.03,646.56 752.03,651.12 758.03,655.76 764.03,660.49 770.03,665.30 776.03,670.20" fill="none" stroke="#000" stroke-width="2.3" stroke-linejoin="round" stroke-linecap="round"/>
<polyline points="134.40,539.79 139.88,539.68 145.37,539.57 150.85,539.48 156.34,539.39 161.82,539.31 167.30,539.23 172.79,539.16 178.27,539.10 183.76,539.05" fill="none" stroke="#111" stroke-width="0.9"/>
<polyline points="182.11,539.06 188.11,539.01 194.11,538.97 200.11,538.95 206.11,538.93 212.11,538.92 218.11,538.93 224.10,538.94 230.10,538.97 236.10,539.00 242.10,539.04 248.10,539.10 254.10,539.16 260.10,539.24 266.10,539.33 272.10,539.43 278.10,539.54 284.10,539.66 290.10,539.80 296.09,539.95 302.09,540.11 308.09,540.29 314.09,540.49 320.09,540.70 326.09,540.92 332.09,541.17 338.09,541.43 344.09,541.71 350.09,542.02 356.09,542.34 362.09,542.68 368.08,543.05 374.08,543.44 380.08,543.86 386.08,544.30 392.08,544.77 398.08,545.26 404.08,545.79 410.08,546.34 416.08,546.92 422.08,547.54 428.08,548.19 434.08,548.88 440.07,549.60 446.07,550.37 452.07,551.17 458.07,552.02 464.07,552.91 470.07,553.85 476.07,554.84 482.07,555.87 488.07,556.96 494.07,558.10 500.07,559.30 506.07,560.55 512.06,561.86 518.06,563.23 524.06,564.67 530.06,566.16 536.06,567.72 542.06,569.35 548.06,571.05 554.06,572.81 560.06,574.65 566.06,576.56 572.06,578.54 578.06,580.60 584.05,582.74 590.05,584.95 596.05,587.24 602.05,589.60 608.05,592.05 614.05,594.57 620.05,597.16 626.05,599.84 632.05,602.59 638.05,605.41 644.05,608.32 650.05,611.30 656.04,614.35 662.04,617.48 668.04,620.69 674.04,623.97 680.04,627.33 686.04,630.76 692.04,634.27 698.04,637.85 704.04,641.51 710.04,645.25 716.04,649.06 722.04,652.95 728.03,656.92 734.03,660.97 740.03,665.11 746.03,669.32 752.03,673.61 758.03,677.99 764.03,682.44 770.03,686.98 776.03,691.60" fill="none" stroke="#000" stroke-width="2.3" stroke-linejoin="round" stroke-linecap="round"/>
<polyline points="134.40,570.49 139.88,570.40 145.37,570.30 150.85,570.22 156.34,570.14 161.82,570.07 167.30,570.00 172.79,569.95 178.27,569.89 183.76,569.84" fill="none" stroke="#111" stroke-width="0.9"/>
<polyline points="182.11,569.86 188.11,569.81 194.11,569.77 200.11,569.73 206.11,569.70 212.11,569.67 218.11,569.65 224.10,569.64 230.10,569.64 236.10,569.64 242.10,569.65 248.10,569.67 254.10,569.70 260.10,569.74 266.10,569.78 272.10,569.84 278.10,569.91 284.10,570.00 290.10,570.09 296.09,570.20 302.09,570.32 308.09,570.46 314.09,570.62 320.09,570.79 326.09,570.98 332.09,571.19 338.09,571.42 344.09,571.67 350.09,571.95 356.09,572.24 362.09,572.56 368.08,572.91 374.08,573.28 380.08,573.68 386.08,574.11 392.08,574.57 398.08,575.06 404.08,575.58 410.08,576.14 416.08,576.73 422.08,577.36 428.08,578.02 434.08,578.72 440.07,579.46 446.07,580.23 452.07,581.05 458.07,581.90 464.07,582.79 470.07,583.73 476.07,584.70 482.07,585.72 488.07,586.78 494.07,587.88 500.07,589.02 506.07,590.21 512.06,591.45 518.06,592.73 524.06,594.05 530.06,595.43 536.06,596.85 542.06,598.32 548.06,599.83 554.06,601.40 560.06,603.01 566.06,604.68 572.06,606.39 578.06,608.16 584.05,609.97 590.05,611.85 596.05,613.77 602.05,615.76 608.05,617.80 614.05,619.91 620.05,622.08 626.05,624.31 632.05,626.61 638.05,628.98 644.05,631.41 650.05,633.92 656.04,636.49 662.04,639.15 668.04,641.87 674.04,644.67 680.04,647.55 686.04,650.51 692.04,653.54 698.04,656.66 704.04,659.85 710.04,663.12 716.04,666.47 722.04,669.90 728.03,673.41 734.03,676.99 740.03,680.65 746.03,684.39 752.03,688.20 758.03,692.09 764.03,696.05 770.03,700.09 776.03,704.20" fill="none" stroke="#000" stroke-width="2.3" stroke-linejoin="round" stroke-linecap="round"/>
<polyline points="134.40,601.51 139.88,601.42 145.37,601.34 150.85,601.27 156.34,601.20 161.82,601.14 167.30,601.08 172.79,601.03 178.27,600.98 183.76,600.94" fill="none" stroke="#111" stroke-width="0.9"/>
<polyline points="182.11,600.95 188.11,600.91 194.11,600.87 200.11,600.84 206.11,600.82 212.11,600.80 218.11,600.79 224.10,600.79 230.10,600.79 236.10,600.80 242.10,600.82 248.10,600.84 254.10,600.87 260.10,600.91 266.10,600.96 272.10,601.02 278.10,601.08 284.10,601.16 290.10,601.25 296.09,601.35 302.09,601.46 308.09,601.58 314.09,601.71 320.09,601.86 326.09,602.03 332.09,602.21 338.09,602.40 344.09,602.62 350.09,602.85 356.09,603.09 362.09,603.36 368.08,603.65 374.08,603.96 380.08,604.29 386.08,604.65 392.08,605.03 398.08,605.43 404.08,605.86 410.08,606.32 416.08,606.80 422.08,607.31 428.08,607.85 434.08,608.42 440.07,609.03 446.07,609.66 452.07,610.32 458.07,611.02 464.07,611.75 470.07,612.51 476.07,613.31 482.07,614.15 488.07,615.02 494.07,615.92 500.07,616.87 506.07,617.85 512.06,618.87 518.06,619.93 524.06,621.03 530.06,622.17 536.06,623.35 542.06,624.57 548.06,625.84 554.06,627.15 560.06,628.50 566.06,629.90 572.06,631.34 578.06,632.83 584.05,634.36 590.05,635.94 596.05,637.58 602.05,639.27 608.05,641.01 614.05,642.82 620.05,644.68 626.05,646.61 632.05,648.60 638.05,650.66 644.05,652.78 650.05,654.98 656.04,657.25 662.04,659.59 668.04,662.01 674.04,664.51 680.04,667.09 686.04,669.75 692.04,672.49 698.04,675.31 704.04,678.22 710.04,681.20 716.04,684.26 722.04,687.40 728.03,690.61 734.03,693.90 740.03,697.26 746.03,700.70 752.03,704.20 758.03,707.78 764.03,711.42 770.03,715.13 776.03,718.90" fill="none" stroke="#000" stroke-width="2.3" stroke-linejoin="round" stroke-linecap="round"/>
<polyline points="134.40,626.36 139.88,626.28 145.37,626.21 150.85,626.14 156.34,626.08 161.82,626.02 167.30,625.97 172.79,625.92 178.27,625.87 183.76,625.83" fill="none" stroke="#111" stroke-width="0.9"/>
<polyline points="182.11,625.85 188.11,625.81 194.11,625.78 200.11,625.77 206.11,625.77 212.11,625.78 218.11,625.80 224.10,625.82 230.10,625.86 236.10,625.90 242.10,625.95 248.10,626.01 254.10,626.07 260.10,626.15 266.10,626.23 272.10,626.33 278.10,626.43 284.10,626.54 290.10,626.66 296.09,626.79 302.09,626.93 308.09,627.09 314.09,627.25 320.09,627.42 326.09,627.61 332.09,627.80 338.09,628.01 344.09,628.24 350.09,628.47 356.09,628.72 362.09,628.99 368.08,629.27 374.08,629.56 380.08,629.88 386.08,630.21 392.08,630.55 398.08,630.92 404.08,631.30 410.08,631.70 416.08,632.12 422.08,632.57 428.08,633.03 434.08,633.53 440.07,634.04 446.07,634.59 452.07,635.16 458.07,635.76 464.07,636.40 470.07,637.07 476.07,637.77 482.07,638.51 488.07,639.28 494.07,640.10 500.07,640.95 506.07,641.85 512.06,642.79 518.06,643.77 524.06,644.80 530.06,645.87 536.06,647.00 542.06,648.17 548.06,649.40 554.06,650.68 560.06,652.01 566.06,653.39 572.06,654.84 578.06,656.34 584.05,657.90 590.05,659.51 596.05,661.18 602.05,662.91 608.05,664.69 614.05,666.52 620.05,668.41 626.05,670.35 632.05,672.34 638.05,674.38 644.05,676.47 650.05,678.61 656.04,680.80 662.04,683.03 668.04,685.31 674.04,687.63 680.04,690.00 686.04,692.41 692.04,694.86 698.04,697.35 704.04,699.89 710.04,702.48 716.04,705.11 722.04,707.79 728.03,710.52 734.03,713.31 740.03,716.14 746.03,719.03 752.03,721.97 758.03,724.97 764.03,728.02 770.03,731.13 776.03,734.30" fill="none" stroke="#000" stroke-width="2.3" stroke-linejoin="round" stroke-linecap="round"/>
<polyline points="134.40,656.88 139.88,656.81 145.37,656.75 150.85,656.69 156.34,656.64 161.82,656.59 167.30,656.54 172.79,656.50 178.27,656.46 183.76,656.43" fill="none" stroke="#111" stroke-width="0.9"/>
<polyline points="182.11,656.44 188.11,656.41 194.11,656.38 200.11,656.37 206.11,656.37 212.11,656.37 218.11,656.38 224.10,656.39 230.10,656.41 236.10,656.44 242.10,656.48 248.10,656.52 254.10,656.57 260.10,656.63 266.10,656.69 272.10,656.76 278.10,656.84 284.10,656.92 290.10,657.02 296.09,657.12 302.09,657.23 308.09,657.35 314.09,657.48 320.09,657.62 326.09,657.77 332.09,657.93 338.09,658.10 344.09,658.28 350.09,658.48 356.09,658.68 362.09,658.90 368.08,659.13 374.08,659.38 380.08,659.64 386.08,659.92 392.08,660.21 398.08,660.52 404.08,660.84 410.08,661.19 416.08,661.55 422.08,661.92 428.08,662.32 434.08,662.74 440.07,663.18 446.07,663.64 452.07,664.13 458.07,664.64 464.07,665.17 470.07,665.73 476.07,666.31 482.07,666.92 488.07,667.56 494.07,668.22 500.07,668.92 506.07,669.64 512.06,670.40 518.06,671.18 524.06,672.00 530.06,672.85 536.06,673.74 542.06,674.66 548.06,675.61 554.06,676.61 560.06,677.63 566.06,678.70 572.06,679.80 578.06,680.94 584.05,682.12 590.05,683.35 596.05,684.61 602.05,685.93 608.05,687.29 614.05,688.70 620.05,690.16 626.05,691.67 632.05,693.24 638.05,694.86 644.05,696.54 650.05,698.28 656.04,700.08 662.04,701.95 668.04,703.88 674.04,705.87 680.04,707.93 686.04,710.06 692.04,712.26 698.04,714.52 704.04,716.85 710.04,719.25 716.04,721.71 722.04,724.23 728.03,726.82 734.03,729.47 740.03,732.18 746.03,734.94 752.03,737.76 758.03,740.64 764.03,743.58 770.03,746.56 776.03,749.60" fill="none" stroke="#000" stroke-width="2.3" stroke-linejoin="round" stroke-linecap="round"/>
<polyline points="134.40,672.44 139.88,672.38 145.37,672.32 150.85,672.26 156.34,672.22 161.82,672.17 167.30,672.13 172.79,672.09 178.27,672.06 183.76,672.03" fill="none" stroke="#111" stroke-width="0.9"/>
<polyline points="182.11,672.04 188.11,672.01 194.11,671.97 200.11,671.94 206.11,671.92 212.11,671.89 218.11,671.87 224.10,671.85 230.10,671.84 236.10,671.83 242.10,671.82 248.10,671.82 254.10,671.82 260.10,671.82 266.10,671.84 272.10,671.86 278.10,671.88 284.10,671.91 290.10,671.95 296.09,672.00 302.09,672.05 308.09,672.12 314.09,672.19 320.09,672.28 326.09,672.38 332.09,672.48 338.09,672.60 344.09,672.74 350.09,672.89 356.09,673.05 362.09,673.22 368.08,673.42 374.08,673.63 380.08,673.85 386.08,674.10 392.08,674.37 398.08,674.65 404.08,674.96 410.08,675.28 416.08,675.63 422.08,676.00 428.08,676.40 434.08,676.81 440.07,677.25 446.07,677.72 452.07,678.20 458.07,678.71 464.07,679.25 470.07,679.81 476.07,680.39 482.07,680.99 488.07,681.62 494.07,682.28 500.07,682.96 506.07,683.67 512.06,684.40 518.06,685.15 524.06,685.93 530.06,686.74 536.06,687.57 542.06,688.43 548.06,689.32 554.06,690.23 560.06,691.17 566.06,692.13 572.06,693.12 578.06,694.14 584.05,695.19 590.05,696.26 596.05,697.38 602.05,698.53 608.05,699.71 614.05,700.95 620.05,702.22 626.05,703.55 632.05,704.92 638.05,706.35 644.05,707.83 650.05,709.37 656.04,710.97 662.04,712.63 668.04,714.36 674.04,716.15 680.04,718.02 686.04,719.96 692.04,721.97 698.04,724.05 704.04,726.20 710.04,728.42 716.04,730.70 722.04,733.05 728.03,735.46 734.03,737.94 740.03,740.47 746.03,743.06 752.03,745.70 758.03,748.40 764.03,751.15 770.03,753.95 776.03,756.80" fill="none" stroke="#000" stroke-width="2.3" stroke-linejoin="round" stroke-linecap="round"/>
<polyline points="134.40,690.82 139.88,690.76 145.37,690.70 150.85,690.65 156.34,690.60 161.82,690.56 167.30,690.52 172.79,690.49 178.27,690.45 183.76,690.43" fill="none" stroke="#111" stroke-width="0.9"/>
<polyline points="182.11,690.43 188.11,690.41 194.11,690.38 200.11,690.37 206.11,690.36 212.11,690.36 218.11,690.36 224.10,690.36 230.10,690.38 236.10,690.40 242.10,690.42 248.10,690.45 254.10,690.49 260.10,690.53 266.10,690.58 272.10,690.64 278.10,690.71 284.10,690.78 290.10,690.86 296.09,690.95 302.09,691.05 308.09,691.16 314.09,691.28 320.09,691.41 326.09,691.55 332.09,691.70 338.09,691.87 344.09,692.04 350.09,692.24 356.09,692.44 362.09,692.66 368.08,692.89 374.08,693.14 380.08,693.40 386.08,693.68 392.08,693.98 398.08,694.30 404.08,694.63 410.08,694.99 416.08,695.36 422.08,695.76 428.08,696.17 434.08,696.61 440.07,697.06 446.07,697.54 452.07,698.04 458.07,698.55 464.07,699.09 470.07,699.65 476.07,700.24 482.07,700.84 488.07,701.47 494.07,702.12 500.07,702.79 506.07,703.48 512.06,704.19 518.06,704.93 524.06,705.69 530.06,706.48 536.06,707.29 542.06,708.12 548.06,708.97 554.06,709.85 560.06,710.75 566.06,711.68 572.06,712.63 578.06,713.60 584.05,714.60 590.05,715.63 596.05,716.69 602.05,717.78 608.05,718.90 614.05,720.07 620.05,721.27 626.05,722.51 632.05,723.80 638.05,725.13 644.05,726.51 650.05,727.93 656.04,729.42 662.04,730.95 668.04,732.54 674.04,734.19 680.04,735.89 686.04,737.66 692.04,739.49 698.04,741.39 704.04,743.34 710.04,745.35 716.04,747.42 722.04,749.54 728.03,751.72 734.03,753.95 740.03,756.24 746.03,758.58 752.03,760.97 758.03,763.41 764.03,765.89 770.03,768.42 776.03,771.00" fill="none" stroke="#000" stroke-width="2.3" stroke-linejoin="round" stroke-linecap="round"/>
<polyline points="134.40,712.96 139.88,712.91 145.37,712.86 150.85,712.82 156.34,712.78 161.82,712.74 167.30,712.71 172.79,712.67 178.27,712.65 183.76,712.62" fill="none" stroke="#111" stroke-width="0.9"/>
<polyline points="182.11,712.63 188.11,712.60 194.11,712.58 200.11,712.56 206.11,712.55 212.11,712.54 218.11,712.53 224.10,712.53 230.10,712.53 236.10,712.53 242.10,712.54 248.10,712.55 254.10,712.57 260.10,712.59 266.10,712.62 272.10,712.65 278.10,712.69 284.10,712.74 290.10,712.79 296.09,712.86 302.09,712.92 308.09,713.00 314.09,713.09 320.09,713.18 326.09,713.29 332.09,713.40 338.09,713.53 344.09,713.67 350.09,713.81 356.09,713.97 362.09,714.15 368.08,714.34 374.08,714.54 380.08,714.75 386.08,714.98 392.08,715.23 398.08,715.50 404.08,715.78 410.08,716.08 416.08,716.39 422.08,716.73 428.08,717.08 434.08,717.45 440.07,717.84 446.07,718.25 452.07,718.68 458.07,719.12 464.07,719.58 470.07,720.06 476.07,720.56 482.07,721.08 488.07,721.61 494.07,722.16 500.07,722.73 506.07,723.32 512.06,723.93 518.06,724.55 524.06,725.19 530.06,725.85 536.06,726.53 542.06,727.22 548.06,727.94 554.06,728.67 560.06,729.41 566.06,730.18 572.06,730.96 578.06,731.76 584.05,732.58 590.05,733.42 596.05,734.28 602.05,735.17 608.05,736.10 614.05,737.05 620.05,738.04 626.05,739.06 632.05,740.13 638.05,741.24 644.05,742.39 650.05,743.59 656.04,744.85 662.04,746.15 668.04,747.51 674.04,748.92 680.04,750.40 686.04,751.94 692.04,753.54 698.04,755.20 704.04,756.92 710.04,758.70 716.04,760.53 722.04,762.42 728.03,764.36 734.03,766.36 740.03,768.40 746.03,770.49 752.03,772.63 758.03,774.81 764.03,777.03 770.03,779.30 776.03,781.60" fill="none" stroke="#000" stroke-width="2.3" stroke-linejoin="round" stroke-linecap="round"/>
<polyline points="134.40,730.02 139.88,729.98 145.37,729.93 150.85,729.90 156.34,729.86 161.82,729.83 167.30,729.80 172.79,729.77 178.27,729.74 183.76,729.72" fill="none" stroke="#111" stroke-width="0.9"/>
<polyline points="182.11,729.73 188.11,729.70 194.11,729.70 200.11,729.70 206.11,729.71 212.11,729.73 218.11,729.75 224.10,729.78 230.10,729.82 236.10,729.86 242.10,729.91 248.10,729.96 254.10,730.02 260.10,730.08 266.10,730.15 272.10,730.22 278.10,730.30 284.10,730.38 290.10,730.47 296.09,730.57 302.09,730.66 308.09,730.77 314.09,730.87 320.09,730.99 326.09,731.10 332.09,731.23 338.09,731.36 344.09,731.49 350.09,731.63 356.09,731.77 362.09,731.92 368.08,732.08 374.08,732.24 380.08,732.41 386.08,732.59 392.08,732.77 398.08,732.95 404.08,733.15 410.08,733.35 416.08,733.56 422.08,733.78 428.08,734.01 434.08,734.24 440.07,734.49 446.07,734.76 452.07,735.04 458.07,735.33 464.07,735.64 470.07,735.97 476.07,736.32 482.07,736.69 488.07,737.08 494.07,737.49 500.07,737.93 506.07,738.39 512.06,738.88 518.06,739.39 524.06,739.94 530.06,740.51 536.06,741.12 542.06,741.75 548.06,742.42 554.06,743.13 560.06,743.86 566.06,744.64 572.06,745.45 578.06,746.30 584.05,747.19 590.05,748.12 596.05,749.08 602.05,750.08 608.05,751.12 614.05,752.19 620.05,753.29 626.05,754.43 632.05,755.60 638.05,756.80 644.05,758.04 650.05,759.30 656.04,760.59 662.04,761.92 668.04,763.27 674.04,764.64 680.04,766.05 686.04,767.47 692.04,768.93 698.04,770.41 704.04,771.92 710.04,773.45 716.04,775.01 722.04,776.60 728.03,778.22 734.03,779.87 740.03,781.55 746.03,783.26 752.03,785.01 758.03,786.78 764.03,788.59 770.03,790.43 776.03,792.30" fill="none" stroke="#000" stroke-width="2.3" stroke-linejoin="round" stroke-linecap="round"/>
<polyline points="134.40,753.16 139.88,753.12 145.37,753.09 150.85,753.06 156.34,753.03 161.82,753.00 167.30,752.98 172.79,752.95 178.27,752.93 183.76,752.92" fill="none" stroke="#111" stroke-width="0.9"/>
<polyline points="182.11,752.92 188.11,752.90 194.11,752.89 200.11,752.87 206.11,752.86 212.11,752.85 218.11,752.85 224.10,752.84 230.10,752.84 236.10,752.84 242.10,752.85 248.10,752.86 254.10,752.86 260.10,752.88 266.10,752.89 272.10,752.91 278.10,752.94 284.10,752.96 290.10,753.00 296.09,753.03 302.09,753.07 308.09,753.12 314.09,753.17 320.09,753.22 326.09,753.29 332.09,753.35 338.09,753.43 344.09,753.51 350.09,753.60 356.09,753.69 362.09,753.80 368.08,753.91 374.08,754.03 380.08,754.16 386.08,754.29 392.08,754.44 398.08,754.60 404.08,754.77 410.08,754.95 416.08,755.14 422.08,755.34 428.08,755.55 434.08,755.78 440.07,756.02 446.07,756.27 452.07,756.54 458.07,756.82 464.07,757.11 470.07,757.43 476.07,757.75 482.07,758.10 488.07,758.46 494.07,758.83 500.07,759.23 506.07,759.64 512.06,760.07 518.06,760.52 524.06,760.99 530.06,761.48 536.06,761.99 542.06,762.52 548.06,763.07 554.06,763.64 560.06,764.23 566.06,764.85 572.06,765.48 578.06,766.15 584.05,766.83 590.05,767.54 596.05,768.27 602.05,769.03 608.05,769.81 614.05,770.62 620.05,771.45 626.05,772.31 632.05,773.19 638.05,774.11 644.05,775.05 650.05,776.01 656.04,777.01 662.04,778.03 668.04,779.09 674.04,780.17 680.04,781.28 686.04,782.42 692.04,783.59 698.04,784.79 704.04,786.02 710.04,787.27 716.04,788.56 722.04,789.88 728.03,791.22 734.03,792.59 740.03,794.00 746.03,795.43 752.03,796.89 758.03,798.37 764.03,799.89 770.03,801.43 776.03,803.00" fill="none" stroke="#000" stroke-width="2.3" stroke-linejoin="round" stroke-linecap="round"/>
<polyline points="134.40,770.22 139.88,770.19 145.37,770.16 150.85,770.13 156.34,770.11 161.82,770.09 167.30,770.06 172.79,770.05 178.27,770.03 183.76,770.01" fill="none" stroke="#111" stroke-width="0.9"/>
<polyline points="182.11,770.02 188.11,770.00 194.11,769.99 200.11,769.99 206.11,769.98 212.11,769.99 218.11,769.99 224.10,770.00 230.10,770.01 236.10,770.02 242.10,770.04 248.10,770.05 254.10,770.08 260.10,770.10 266.10,770.13 272.10,770.16 278.10,770.20 284.10,770.24 290.10,770.28 296.09,770.33 302.09,770.38 308.09,770.44 314.09,770.50 320.09,770.56 326.09,770.63 332.09,770.71 338.09,770.79 344.09,770.87 350.09,770.97 356.09,771.06 362.09,771.17 368.08,771.27 374.08,771.39 380.08,771.51 386.08,771.64 392.08,771.78 398.08,771.93 404.08,772.08 410.08,772.24 416.08,772.41 422.08,772.59 428.08,772.78 434.08,772.97 440.07,773.18 446.07,773.40 452.07,773.63 458.07,773.87 464.07,774.12 470.07,774.38 476.07,774.66 482.07,774.94 488.07,775.24 494.07,775.56 500.07,775.89 506.07,776.23 512.06,776.58 518.06,776.95 524.06,777.34 530.06,777.74 536.06,778.16 542.06,778.59 548.06,779.04 554.06,779.50 560.06,779.99 566.06,780.49 572.06,781.01 578.06,781.54 584.05,782.10 590.05,782.67 596.05,783.27 602.05,783.88 608.05,784.51 614.05,785.17 620.05,785.85 626.05,786.55 632.05,787.28 638.05,788.02 644.05,788.80 650.05,789.59 656.04,790.42 662.04,791.26 668.04,792.14 674.04,793.04 680.04,793.96 686.04,794.92 692.04,795.90 698.04,796.91 704.04,797.95 710.04,799.01 716.04,800.10 722.04,801.22 728.03,802.36 734.03,803.53 740.03,804.72 746.03,805.94 752.03,807.19 758.03,808.45 764.03,809.75 770.03,811.06 776.03,812.40" fill="none" stroke="#000" stroke-width="2.3" stroke-linejoin="round" stroke-linecap="round"/>
<polyline points="134.40,777.60 139.88,777.57 145.37,777.55 150.85,777.52 156.34,777.50 161.82,777.48 167.30,777.46 172.79,777.44 178.27,777.43 183.76,777.41" fill="none" stroke="#111" stroke-width="0.9"/>
<polyline points="182.11,777.42 188.11,777.40 194.11,777.39 200.11,777.38 206.11,777.37 212.11,777.36 218.11,777.36 224.10,777.35 230.10,777.35 236.10,777.35 242.10,777.36 248.10,777.36 254.10,777.37 260.10,777.38 266.10,777.40 272.10,777.41 278.10,777.44 284.10,777.46 290.10,777.49 296.09,777.52 302.09,777.56 308.09,777.60 314.09,777.65 320.09,777.70 326.09,777.76 332.09,777.83 338.09,777.90 344.09,777.97 350.09,778.06 356.09,778.15 362.09,778.25 368.08,778.35 374.08,778.47 380.08,778.59 386.08,778.72 392.08,778.86 398.08,779.01 404.08,779.17 410.08,779.34 416.08,779.52 422.08,779.72 428.08,779.92 434.08,780.13 440.07,780.35 446.07,780.59 452.07,780.83 458.07,781.08 464.07,781.35 470.07,781.62 476.07,781.90 482.07,782.20 488.07,782.50 494.07,782.81 500.07,783.14 506.07,783.47 512.06,783.81 518.06,784.16 524.06,784.52 530.06,784.89 536.06,785.27 542.06,785.65 548.06,786.05 554.06,786.46 560.06,786.87 566.06,787.29 572.06,787.72 578.06,788.16 584.05,788.61 590.05,789.07 596.05,789.55 602.05,790.03 608.05,790.54 614.05,791.06 620.05,791.61 626.05,792.17 632.05,792.76 638.05,793.37 644.05,794.01 650.05,794.68 656.04,795.38 662.04,796.11 668.04,796.87 674.04,797.67 680.04,798.50 686.04,799.38 692.04,800.28 698.04,801.23 704.04,802.21 710.04,803.23 716.04,804.28 722.04,805.36 728.03,806.48 734.03,807.63 740.03,808.80 746.03,810.00 752.03,811.23 758.03,812.49 764.03,813.77 770.03,815.07 776.03,816.40" fill="none" stroke="#000" stroke-width="2.3" stroke-linejoin="round" stroke-linecap="round"/>
<polyline points="134.40,794.37 139.88,794.34 145.37,794.32 150.85,794.30 156.34,794.28 161.82,794.26 167.30,794.25 172.79,794.23 178.27,794.22 183.76,794.21" fill="none" stroke="#111" stroke-width="0.9"/>
<polyline points="182.11,794.21 188.11,794.20 194.11,794.20 200.11,794.21 206.11,794.22 212.11,794.23 218.11,794.25 224.10,794.27 230.10,794.30 236.10,794.33 242.10,794.36 248.10,794.39 254.10,794.43 260.10,794.47 266.10,794.52 272.10,794.56 278.10,794.61 284.10,794.66 290.10,794.72 296.09,794.77 302.09,794.83 308.09,794.89 314.09,794.95 320.09,795.02 326.09,795.09 332.09,795.15 338.09,795.22 344.09,795.30 350.09,795.37 356.09,795.45 362.09,795.53 368.08,795.61 374.08,795.69 380.08,795.77 386.08,795.86 392.08,795.95 398.08,796.04 404.08,796.13 410.08,796.22 416.08,796.32 422.08,796.42 428.08,796.52 434.08,796.63 440.07,796.74 446.07,796.86 452.07,796.99 458.07,797.12 464.07,797.27 470.07,797.42 476.07,797.58 482.07,797.75 488.07,797.94 494.07,798.13 500.07,798.34 506.07,798.56 512.06,798.80 518.06,799.05 524.06,799.32 530.06,799.60 536.06,799.90 542.06,800.22 548.06,800.56 554.06,800.92 560.06,801.30 566.06,801.70 572.06,802.12 578.06,802.57 584.05,803.03 590.05,803.52 596.05,804.03 602.05,804.56 608.05,805.11 614.05,805.67 620.05,806.26 626.05,806.86 632.05,807.48 638.05,808.12 644.05,808.77 650.05,809.44 656.04,810.12 662.04,810.81 668.04,811.52 674.04,812.23 680.04,812.96 686.04,813.70 692.04,814.45 698.04,815.21 704.04,815.98 710.04,816.76 716.04,817.56 722.04,818.37 728.03,819.19 734.03,820.03 740.03,820.88 746.03,821.74 752.03,822.62 758.03,823.52 764.03,824.43 770.03,825.36 776.03,826.30" fill="none" stroke="#000" stroke-width="2.3" stroke-linejoin="round" stroke-linecap="round"/>
<polyline points="134.40,817.80 139.88,817.79 145.37,817.77 150.85,817.76 156.34,817.75 161.82,817.74 167.30,817.73 172.79,817.72 178.27,817.71 183.76,817.71" fill="none" stroke="#111" stroke-width="0.9"/>
<polyline points="182.11,817.71 188.11,817.70 194.11,817.70 200.11,817.70 206.11,817.70 212.11,817.70 218.11,817.71 224.10,817.72 230.10,817.72 236.10,817.74 242.10,817.75 248.10,817.76 254.10,817.78 260.10,817.80 266.10,817.82 272.10,817.84 278.10,817.86 284.10,817.88 290.10,817.91 296.09,817.94 302.09,817.97 308.09,818.00 314.09,818.04 320.09,818.07 326.09,818.11 332.09,818.15 338.09,818.20 344.09,818.24 350.09,818.29 356.09,818.34 362.09,818.39 368.08,818.45 374.08,818.51 380.08,818.57 386.08,818.63 392.08,818.70 398.08,818.77 404.08,818.84 410.08,818.92 416.08,819.00 422.08,819.08 428.08,819.17 434.08,819.26 440.07,819.36 446.07,819.46 452.07,819.57 458.07,819.68 464.07,819.80 470.07,819.92 476.07,820.05 482.07,820.19 488.07,820.34 494.07,820.49 500.07,820.65 506.07,820.81 512.06,820.99 518.06,821.17 524.06,821.37 530.06,821.57 536.06,821.78 542.06,822.00 548.06,822.23 554.06,822.47 560.06,822.72 566.06,822.98 572.06,823.25 578.06,823.53 584.05,823.83 590.05,824.13 596.05,824.45 602.05,824.77 608.05,825.11 614.05,825.45 620.05,825.81 626.05,826.17 632.05,826.54 638.05,826.92 644.05,827.31 650.05,827.71 656.04,828.11 662.04,828.53 668.04,828.94 674.04,829.37 680.04,829.80 686.04,830.24 692.04,830.68 698.04,831.13 704.04,831.59 710.04,832.05 716.04,832.52 722.04,833.00 728.03,833.48 734.03,833.98 740.03,834.48 746.03,834.99 752.03,835.51 758.03,836.05 764.03,836.59 770.03,837.14 776.03,837.70" fill="none" stroke="#000" stroke-width="2.3" stroke-linejoin="round" stroke-linecap="round"/>
<polyline points="134.40,825.59 139.88,825.58 145.37,825.57 150.85,825.55 156.34,825.54 161.82,825.54 167.30,825.53 172.79,825.52 178.27,825.51 183.76,825.51" fill="none" stroke="#111" stroke-width="0.9"/>
<polyline points="182.11,825.51 188.11,825.50 194.11,825.50 200.11,825.49 206.11,825.49 212.11,825.48 218.11,825.48 224.10,825.48 230.10,825.48 236.10,825.49 242.10,825.49 248.10,825.49 254.10,825.50 260.10,825.51 266.10,825.52 272.10,825.53 278.10,825.55 284.10,825.56 290.10,825.58 296.09,825.61 302.09,825.63 308.09,825.66 314.09,825.69 320.09,825.72 326.09,825.76 332.09,825.80 338.09,825.84 344.09,825.89 350.09,825.94 356.09,826.00 362.09,826.06 368.08,826.12 374.08,826.19 380.08,826.27 386.08,826.35 392.08,826.44 398.08,826.53 404.08,826.62 410.08,826.73 416.08,826.83 422.08,826.95 428.08,827.07 434.08,827.19 440.07,827.33 446.07,827.46 452.07,827.60 458.07,827.75 464.07,827.90 470.07,828.05 476.07,828.21 482.07,828.37 488.07,828.53 494.07,828.70 500.07,828.87 506.07,829.04 512.06,829.22 518.06,829.40 524.06,829.58 530.06,829.76 536.06,829.94 542.06,830.13 548.06,830.31 554.06,830.50 560.06,830.69 566.06,830.88 572.06,831.07 578.06,831.26 584.05,831.44 590.05,831.64 596.05,831.83 602.05,832.03 608.05,832.23 614.05,832.44 620.05,832.66 626.05,832.88 632.05,833.12 638.05,833.36 644.05,833.61 650.05,833.88 656.04,834.16 662.04,834.46 668.04,834.77 674.04,835.09 680.04,835.44 686.04,835.80 692.04,836.18 698.04,836.57 704.04,836.99 710.04,837.42 716.04,837.87 722.04,838.33 728.03,838.81 734.03,839.30 740.03,839.81 746.03,840.33 752.03,840.86 758.03,841.40 764.03,841.96 770.03,842.52 776.03,843.10" fill="none" stroke="#000" stroke-width="2.3" stroke-linejoin="round" stroke-linecap="round"/>
<g font-family='"Liberation Sans", sans-serif' font-size="14" fill="#1a1a1a" stroke="#1a1a1a" stroke-width="0.2"><text transform="translate(161.30,108.31) scale(1.02,1)" text-anchor="middle">-93</text>
<text transform="translate(161.30,162.90) scale(1.02,1)" text-anchor="middle">-86</text>
<text transform="translate(161.30,224.29) scale(1.02,1)" text-anchor="middle">-79</text>
<text transform="translate(161.30,254.89) scale(1.02,1)" text-anchor="middle">-75</text>
<text transform="translate(161.30,303.38) scale(1.02,1)" text-anchor="middle">-69</text>
<text transform="translate(161.30,334.08) scale(1.02,1)" text-anchor="middle">-65</text>
<text transform="translate(161.30,372.97) scale(1.02,1)" text-anchor="middle">-60</text>
<text transform="translate(161.30,406.77) scale(1.02,1)" text-anchor="middle">-56</text>
<text transform="translate(161.30,437.06) scale(1.02,1)" text-anchor="middle">-52</text>
<text transform="translate(161.30,471.16) scale(1.02,1)" text-anchor="middle">-48</text>
<text transform="translate(161.30,501.55) scale(1.02,1)" text-anchor="middle">-44</text>
<text transform="translate(161.30,534.55) scale(1.02,1)" text-anchor="middle">-40</text>
<text transform="translate(161.30,565.34) scale(1.02,1)" text-anchor="middle">-36</text>
<text transform="translate(161.30,596.44) scale(1.02,1)" text-anchor="middle">-32</text>
<text transform="translate(161.30,621.33) scale(1.02,1)" text-anchor="middle">-29</text>
<text transform="translate(161.30,651.93) scale(1.02,1)" text-anchor="middle">-25</text>
<text transform="translate(161.30,670.03) scale(1.02,1)" text-anchor="middle">-23</text>
<text transform="translate(161.30,685.93) scale(1.02,1)" text-anchor="middle">-21</text>
<text transform="translate(161.30,708.12) scale(1.02,1)" text-anchor="middle">-18</text>
<text transform="translate(161.30,725.22) scale(1.02,1)" text-anchor="middle">-16</text>
<text transform="translate(161.30,748.42) scale(1.02,1)" text-anchor="middle">-13</text>
<text transform="translate(161.30,765.51) scale(1.02,1)" text-anchor="middle">-11</text>
<text transform="translate(161.30,783.41) scale(1.02,1)" text-anchor="middle">-10</text>
<text transform="translate(161.30,800.21) scale(1.02,1)" text-anchor="middle">-8</text>
<text transform="translate(161.30,814.71) scale(1.02,1)" text-anchor="middle">-5</text>
<text transform="translate(161.30,839.01) scale(1.02,1)" text-anchor="middle">-4</text></g>
<rect x="650.9" y="50.80" width="196.42" height="101.90" fill="#fff" stroke="#000" stroke-width="1.6"/>
<g font-family='"Liberation Sans", sans-serif' fill="#111" stroke="#111" stroke-width="0.2" text-anchor="middle"><text x="749.2" y="86.8" font-size="23.7" textLength="54.9" lengthAdjust="spacingAndGlyphs">SP 9</text><text x="749.6" y="115.7" font-size="18" textLength="47.3" lengthAdjust="spacingAndGlyphs">50 Hz</text><text x="748.6" y="136.9" font-size="13.6" textLength="164.8" lengthAdjust="spacingAndGlyphs">ISO 9906:2012 Grade 3B</text></g>
</svg>
</body></html>
